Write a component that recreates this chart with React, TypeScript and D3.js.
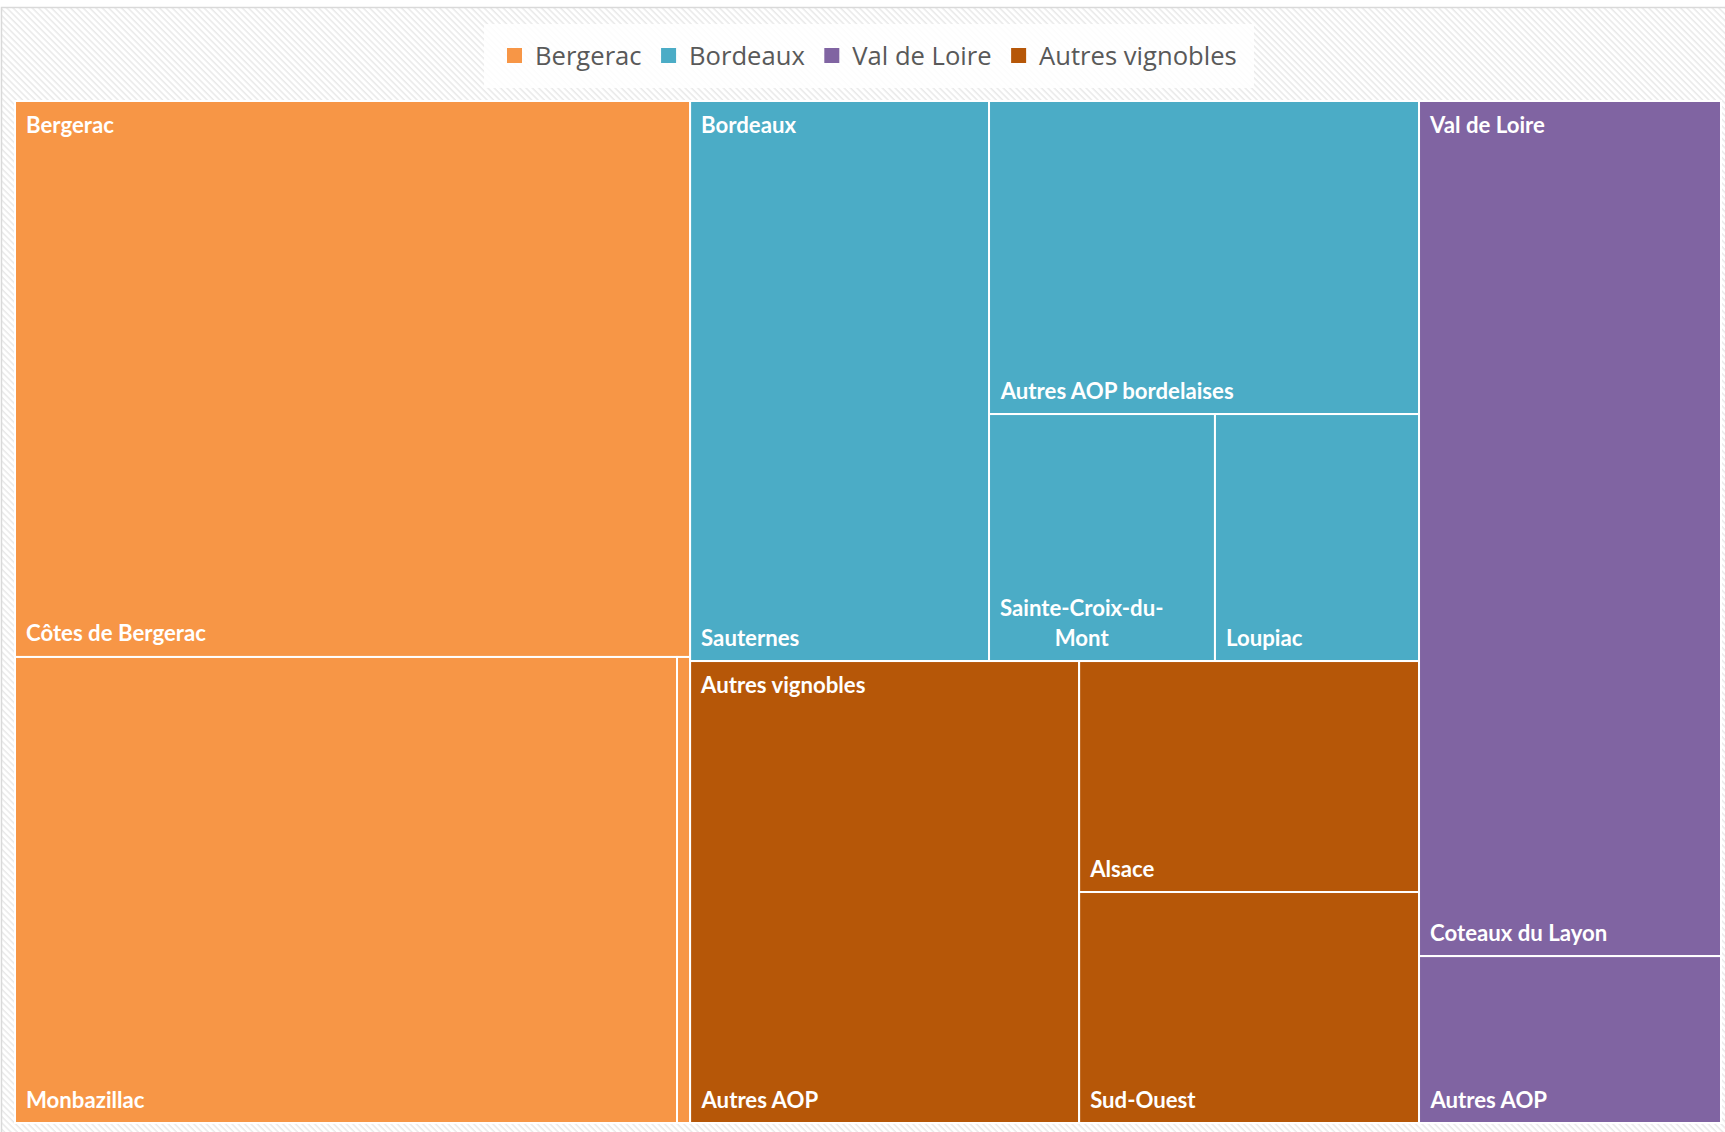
import React, { useMemo } from "react";
import * as d3 from "d3";

// ---------- DATA ----------
const groups = ["Bergerac", "Bordeaux", "Val de Loire", "Autres vignobles"];
const groupColors = ["#F79646", "#4BACC6", "#8064A2", "#B65708"];

const appellations = [
  "Côtes de Bergerac",
  "Monbazillac",
  "Saussignac",
  "Sauternes",
  "Autres AOP bordelaises",
  "Sainte-Croix-du-Mont",
  "Loupiac",
  "Coteaux du Layon",
  "Autres AOP",
  "Autres AOP",
  "Alsace",
  "Sud-Ouest",
];
const appellationGroups = [
  "Bergerac",
  "Bergerac",
  "Bergerac",
  "Bordeaux",
  "Bordeaux",
  "Bordeaux",
  "Bordeaux",
  "Val de Loire",
  "Val de Loire",
  "Autres vignobles",
  "Autres vignobles",
  "Autres vignobles",
];
const appellationValues = [375.3, 308.5, 6.1, 167.4, 134.6, 55.8, 50.4, 258.2, 50.4, 179.7, 78.5, 78.5];

// ---------- LAYOUT ----------
const W = 1725;
const H = 1132;
const TX = 15;
const TY = 101;
const TW = 1706;
const TH = 1022;

const LABEL_FONT_SIZE = 22.2;
const LABEL_FONT = `bold ${LABEL_FONT_SIZE}px Lato`;
const LEGEND_FONT_SIZE = 25.6;
const LEGEND_FONT = `${LEGEND_FONT_SIZE}px "Open Sans"`;

let ctx: CanvasRenderingContext2D | null = null;
function measure(text: string, font: string): number {
  if (!ctx) ctx = document.createElement("canvas").getContext("2d");
  if (!ctx) return text.length * 10;
  ctx.font = font;
  return ctx.measureText(text).width;
}

function wrapLabel(text: string, maxW: number): string[] {
  if (measure(text, LABEL_FONT) <= maxW) return [text];
  const tokens = text.match(/[^\s-]+-?\s?/g) || [text];
  const lines: string[] = [];
  let cur = "";
  tokens.forEach((t) => {
    const test = cur + t;
    if (cur && measure(test.trim(), LABEL_FONT) > maxW) {
      lines.push(cur.trim());
      cur = t;
    } else cur = test;
  });
  if (cur) lines.push(cur.trim());
  return lines;
}

type Node = { name: string; value?: number; children?: Node[] };

export default function App() {
  const root = useMemo(() => {
    const data: Node = {
      name: "root",
      children: groups.map((g) => ({
        name: g,
        children: appellations
          .map((a, i) => ({ name: a, value: appellationValues[i], g: appellationGroups[i] }))
          .filter((d) => d.g === g)
          .map((d) => ({ name: d.name, value: d.value })),
      })),
    };
    const h = d3
      .hierarchy<Node>(data)
      .sum((d) => d.value ?? 0)
      .sort((a, b) => (b.value ?? 0) - (a.value ?? 0));
    return d3
      .treemap<Node>()
      .size([TW, TH])
      .tile(d3.treemapSquarify.ratio(1))
      .paddingInner(0)(h);
  }, []);

  const color = d3.scaleOrdinal<string, string>().domain(groups).range(groupColors);

  const leaves = root.leaves();
  const parents = root.children || [];

  // legend layout
  let lx = 507;
  const legendItems = groups.map((g) => {
    const item = { g, x: lx };
    lx += 28 + measure(g, LEGEND_FONT) + 19.5;
    return item;
  });

  return (
    <svg width={W} height={H} style={{ position: "absolute", left: 0, top: 0 }}>
      <defs>
        <pattern id="hatch" width="4.5" height="4.5" patternUnits="userSpaceOnUse" patternTransform="rotate(45)">
          <rect width="4.5" height="4.5" fill="#ffffff" />
          <line x1="0" y1="0.75" x2="4.5" y2="0.75" stroke="#e9e9e9" strokeWidth="1.5" />
        </pattern>
      </defs>
      <rect x={0} y={0} width={W} height={H} fill="#ffffff" />
      <rect x={1.5} y={7.5} width={W + 10} height={H + 10} fill="url(#hatch)" stroke="#d9d9d9" strokeWidth={1.5} />

      {/* legend */}
      <rect x={484} y={24} width={770} height={64} fill="#ffffff" opacity={0.85} />
      {legendItems.map((it) => (
        <g key={it.g}>
          <rect x={it.x} y={48} width={15} height={15} fill={color(it.g)} />
          <text
            x={it.x + 28}
            y={65}
            fontFamily='"Open Sans", sans-serif'
            fontSize={LEGEND_FONT_SIZE}
            fill="#595959"
          >
            {it.g}
          </text>
        </g>
      ))}

      <g transform={`translate(${TX},${TY})`}>
        {leaves.map((d, i) => (
          <rect
            key={"r" + i}
            x={d.x0}
            y={d.y0}
            width={d.x1 - d.x0}
            height={d.y1 - d.y0}
            fill={color(d.parent!.data.name)}
            stroke="#ffffff"
            strokeWidth={2}
          />
        ))}
        {leaves.map((d, i) => {
          const w = d.x1 - d.x0;
          if (w < 40) return null;
          const lines = wrapLabel(d.data.name, w - 22);
          const blockW = Math.max(...lines.map((l) => measure(l, LABEL_FONT)));
          const cx = d.x0 + 11 + blockW / 2;
          const lastY = d.y1 - 15.5;
          return (
            <text
              key={"t" + i}
              fontFamily="Lato, sans-serif"
              fontWeight="bold"
              fontSize={LABEL_FONT_SIZE}
              fill="#ffffff"
              textAnchor="middle"
            >
              {lines.map((l, j) => (
                <tspan key={j} x={cx} y={lastY - (lines.length - 1 - j) * 30}>
                  {l}
                </tspan>
              ))}
            </text>
          );
        })}
        {parents.map((p, i) => (
          <text
            key={"p" + i}
            x={p.x0 + 11}
            y={p.y0 + 31.5}
            fontFamily="Lato, sans-serif"
            fontWeight="bold"
            fontSize={LABEL_FONT_SIZE}
            fill="#ffffff"
          >
            {p.data.name}
          </text>
        ))}
      </g>
    </svg>
  );
}
